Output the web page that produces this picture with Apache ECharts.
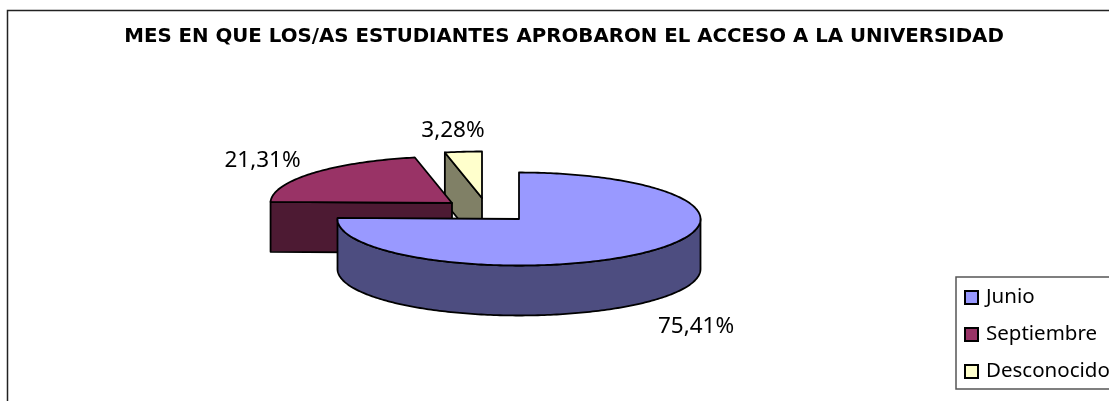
<!DOCTYPE html>
<html>
<head>
<meta charset="utf-8">
<title>Mes de acceso</title>
<style>
html, body { margin: 0; padding: 0; background: #fff; }
#chart { width: 1109px; height: 401px; }
</style>
<script src="https://cdn.jsdelivr.net/npm/echarts@6/dist/echarts.min.js"></script>
</head>
<body>
<div id="chart"></div>
<script>
var chart_title = 'MES EN QUE LOS/AS ESTUDIANTES APROBARON EL ACCESO A LA UNIVERSIDAD';
var categories = ['Junio', 'Septiembre', 'Desconocido'];
var percents = [75.41, 21.31, 3.28];

// look of each slice, not data
var top_colors = ['#9999FF', '#993366', '#FFFFCC'];
var side_colors = ['#4D4D80', '#4D1A33', '#808066'];
var centers = [[519, 219], [452, 203], [482, 198]];
var label_pos = [[696, 327], [262.5, 161], [453, 131]];
var radius_x = 181.5;
var radius_y = 46.5;
var depth = 50;
var font = '"Noto Sans", sans-serif';

// angle is clockwise from 12 o'clock
function to_xy(c, deg, dy) {
    var a = deg * Math.PI / 180;
    return [c[0] + radius_x * Math.sin(a), c[1] - radius_y * Math.cos(a) + (dy || 0)];
}

function slice_range(idx) {
    var total = percents.reduce(function(a, b) { return a + b; }, 0);
    var start = 0;
    for (let i = 0; i < idx; i++) {
        start += percents[i];
    }
    return [start / total * 360, (start + percents[idx]) / total * 360];
}

function poly(points, fill) {
    return {
        type: 'polygon',
        shape: { points: points },
        style: { fill: fill, stroke: '#000', lineWidth: 1.8, lineJoin: 'round' }
    };
}

function render_slice(params, api) {
    var idx = params.seriesIndex;
    var r = slice_range(idx);
    var c = centers[idx];
    var kids = [];

    // cut faces, only when they look down at us
    var sides = [[r[0], -1], [r[1], 1]];
    sides.forEach(function(s) {
        if (Math.sin(s[0] * Math.PI / 180) * s[1] > 1e-6) {
            kids.push(poly([c, to_xy(c, s[0]), to_xy(c, s[0], depth), [c[0], c[1] + depth]], side_colors[idx]));
        }
    });

    // outer rim, front half only
    var a0 = Math.max(r[0], 90);
    var a1 = Math.min(r[1], 270);
    if (a1 > a0) {
        var rim = [];
        for (let a = a0; a <= a1; a += 1) { rim.push(to_xy(c, a)); }
        rim.push(to_xy(c, a1));
        rim.push(to_xy(c, a1, depth));
        for (let a = a1; a >= a0; a -= 1) { rim.push(to_xy(c, a, depth)); }
        rim.push(to_xy(c, a0, depth));
        kids.push(poly(rim, side_colors[idx]));
    }

    // top face
    var top = [c];
    for (let a = r[0]; a < r[1]; a += 1) { top.push(to_xy(c, a)); }
    top.push(to_xy(c, r[1]));
    kids.push(poly(top, top_colors[idx]));

    // value label
    kids.push({
        type: 'text',
        style: {
            x: label_pos[idx][0],
            y: label_pos[idx][1],
            text: api.value(0).toFixed(2).replace('.', ',') + '%',
            fill: '#000',
            font: '22.5px ' + font,
            textAlign: 'center',
            textVerticalAlign: 'middle'
        }
    });
    return { type: 'group', children: kids };
}

var series = [];
// drawn back to front
[2, 1, 0].forEach(function(i) {
    series[i] = {
        type: 'custom',
        name: categories[i],
        coordinateSystem: 'none',
        z: 3 - i,
        animation: false,
        silent: true,
        itemStyle: { color: top_colors[i], borderColor: '#000', borderWidth: 1.5 },
        renderItem: render_slice,
        data: [percents[i]]
    };
});

var option = {
    animation: false,
    title: {
        text: chart_title,
        left: 559,
        top: 22,
        textAlign: 'center',
        textStyle: { color: '#000', fontFamily: '"DejaVu Sans", sans-serif', fontWeight: 'bold', fontSize: 19.8 }
    },
    legend: {
        data: categories,
        orient: 'vertical',
        left: 956,
        top: 277,
        padding: [10, 8, 7, 8],
        itemWidth: 13,
        itemHeight: 13,
        itemGap: 16,
        backgroundColor: '#fff',
        borderColor: '#555',
        borderWidth: 1.5,
        borderRadius: 0,
        icon: 'rect',
        textStyle: { color: '#000', fontFamily: font, fontSize: 20.5, padding: [0, 0, 0, 3] }
    },
    graphic: [{
        type: 'rect',
        shape: { x: 7.5, y: 10.5, width: 1200, height: 500 },
        style: { fill: 'none', stroke: '#222', lineWidth: 1.5 },
        silent: true,
        z: -10
    }],
    series: series
};

var plot_chart = echarts.init(document.getElementById('chart'));
plot_chart.setOption(option);
</script>
</body>
</html>
